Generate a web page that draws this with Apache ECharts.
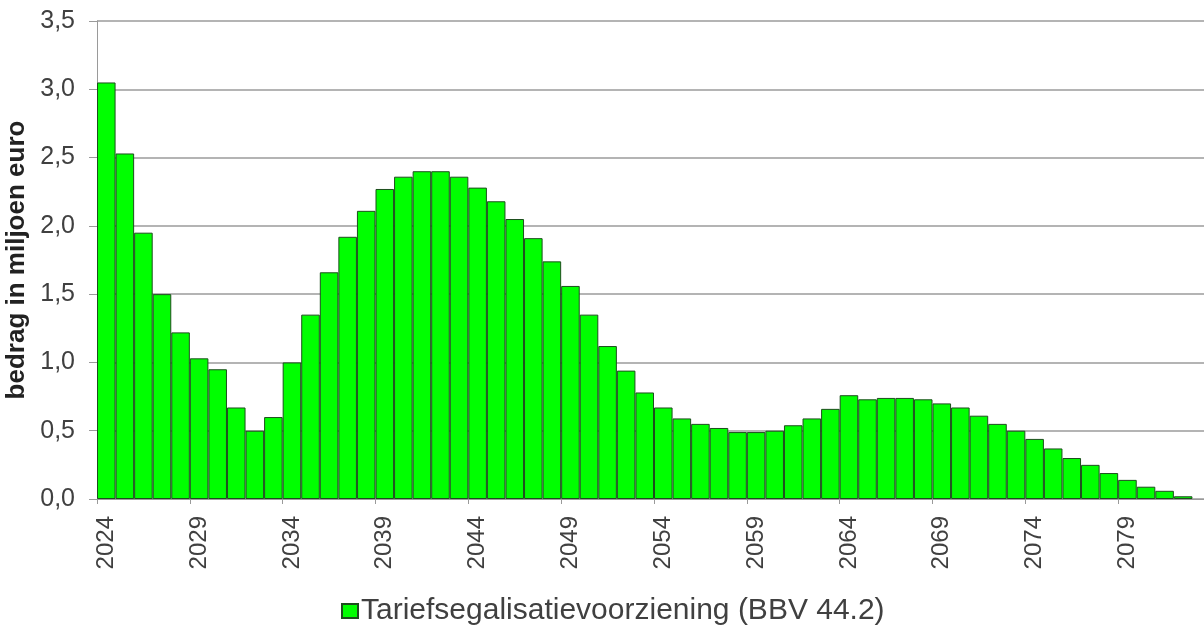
<!DOCTYPE html>
<html>
<head>
<meta charset="utf-8">
<script src="https://cdn.jsdelivr.net/npm/echarts@6/dist/echarts.min.js"></script>
<style>
  html, body { margin: 0; padding: 0; background: #fff; }
  #chart { width: 1204px; height: 626px; }
</style>
</head>
<body>
<div id="chart"></div>
<script>
// jaren (laatste categorie 2083 is leeg, as loopt door tot de rand)
const years = ['2024','2025','2026','2027','2028','2029','2030','2031','2032','2033',
  '2034','2035','2036','2037','2038','2039','2040','2041','2042','2043',
  '2044','2045','2046','2047','2048','2049','2050','2051','2052','2053',
  '2054','2055','2056','2057','2058','2059','2060','2061','2062','2063',
  '2064','2065','2066','2067','2068','2069','2070','2071','2072','2073',
  '2074','2075','2076','2077','2078','2079','2080','2081','2082','2083'];

// bedrag in miljoen euro, 2024 t/m 2082
const tariefsegalisatie = [3.05, 2.53, 1.95, 1.50, 1.22, 1.03, 0.95, 0.67, 0.50, 0.60,
  1.00, 1.35, 1.66, 1.92, 2.11, 2.27, 2.36, 2.40, 2.40, 2.36,
  2.28, 2.18, 2.05, 1.91, 1.74, 1.56, 1.35, 1.12, 0.94, 0.78,
  0.67, 0.59, 0.55, 0.52, 0.49, 0.49, 0.50, 0.54, 0.59, 0.66,
  0.76, 0.73, 0.74, 0.74, 0.73, 0.70, 0.67, 0.61, 0.55, 0.50,
  0.44, 0.37, 0.30, 0.25, 0.19, 0.14, 0.09, 0.06, 0.02];

const seriesName = 'Tariefsegalisatievoorziening (BBV 44.2)';
const yTicks = { min: 0, max: 3.5, interval: 0.5 };

const font = '"Liberation Sans", Arial, sans-serif';
const textColor = '#404040';

let myChart = echarts.init(document.getElementById('chart'));
myChart.setOption({
  animation: false,
  backgroundColor: '#ffffff',
  grid: {
    left: 97,
    right: -7,
    top: 21,
    bottom: 127,
    outerBoundsMode: 'none',
    containLabel: false
  },
  legend: {
    left: 336,
    top: 591,
    itemWidth: 16,
    itemHeight: 14,
    itemGap: 10,
    icon: 'rect',
    textStyle: { fontFamily: font, fontSize: 30, color: textColor, padding: [0, 0, 0, -2] },
    data: [seriesName]
  },
  xAxis: {
    type: 'category',
    data: years,
    boundaryGap: true,
    axisLine: { lineStyle: { color: '#9a9a9a', width: 1 } },
    axisTick: { show: true, interval: 4, length: 5, lineStyle: { color: '#9a9a9a' } },
    axisLabel: {
      interval: 4,
      rotate: 90,
      margin: 17,
      fontFamily: font,
      fontSize: 24,
      color: textColor
    },
    splitLine: { show: false }
  },
  yAxis: {
    type: 'value',
    min: yTicks.min,
    max: yTicks.max,
    interval: yTicks.interval,
    name: 'bedrag in miljoen euro',
    nameLocation: 'middle',
    nameGap: 66,
    nameTextStyle: { fontFamily: font, fontSize: 26, fontWeight: 'bold', color: '#222' },
    axisLine: { show: true, lineStyle: { color: '#9a9a9a', width: 1 } },
    axisTick: { show: true, length: 8, lineStyle: { color: '#9a9a9a' } },
    axisLabel: {
      margin: 22,
      fontFamily: font,
      fontSize: 25,
      color: textColor,
      formatter: function (v) { return v.toFixed(1).replace('.', ','); }
    },
    splitLine: { show: true, lineStyle: { color: '#b4b4b4', width: 2 } }
  },
  series: [
    {
      name: seriesName,
      type: 'bar',
      data: tariefsegalisatie,
      barCategoryGap: '0%',
      itemStyle: {
        color: '#00ff00',
        borderColor: '#1d4d1d',
        borderWidth: 1
      }
    }
  ]
});
</script>
</body>
</html>
